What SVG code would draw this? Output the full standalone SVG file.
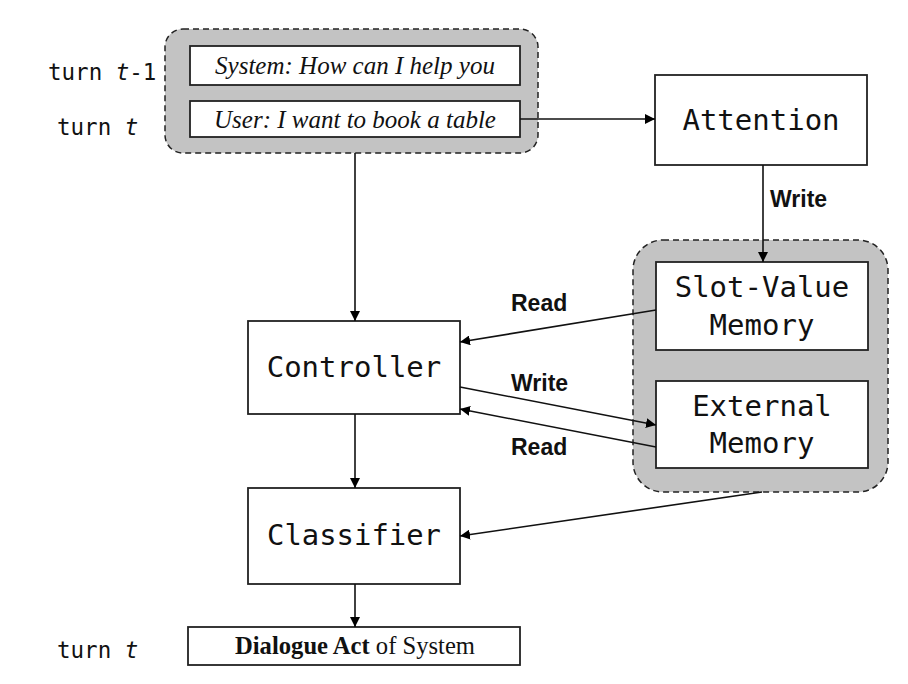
<svg xmlns="http://www.w3.org/2000/svg" width="908" height="684" viewBox="0 0 908 684">
<defs>
<marker id="ah" viewBox="0 0 10 10" refX="10" refY="5" markerWidth="10" markerHeight="10" markerUnits="userSpaceOnUse" orient="auto">
<path d="M0,0 L10,5 L0,10 z" fill="#000"/>
</marker>
<style>
.grp{fill:#c3c3c3;stroke:#222;stroke-width:1.5;stroke-dasharray:6,4}
.box{fill:#fff;stroke:#222;stroke-width:1.8}
.mono{font-family:"DejaVu Sans Mono","Liberation Mono",monospace;fill:#111}
.big{font-size:29px}
.turn{font-size:22.5px}
.serif{font-family:"Liberation Serif","Times New Roman",serif;font-size:25px;fill:#111}
.lbl{font-family:"Liberation Sans",Arial,sans-serif;font-weight:bold;font-size:23px;fill:#111}
.edge{stroke:#111;stroke-width:1.6;fill:none;marker-end:url(#ah)}
</style>
</defs>
<rect width="908" height="684" fill="#fff"/>

<g id="turn-labels">
<text class="mono turn" x="48" y="80">turn <tspan font-style="italic">t</tspan>-1</text>
<text class="mono turn" x="57" y="135">turn <tspan font-style="italic">t</tspan></text>
<text class="mono turn" x="57" y="658">turn <tspan font-style="italic">t</tspan></text>
</g>

<g id="input-group">
<rect class="grp" x="165" y="29" width="373" height="124" rx="18"/>
</g>
<g id="system-utterance">
<rect class="box" x="190" y="46" width="330" height="39"/>
<text class="serif" x="355" y="74" text-anchor="middle" font-style="italic">System: How can I help you</text>
</g>
<g id="user-utterance">
<rect class="box" x="190" y="101" width="330" height="36"/>
<text class="serif" x="355" y="128" text-anchor="middle" font-style="italic">User: I want to book a table</text>
</g>

<g id="attention">
<rect class="box" x="655" y="75" width="212" height="90"/>
<text class="mono big" x="761" y="130" text-anchor="middle">Attention</text>
</g>

<g id="memory-group">
<rect class="grp" x="633" y="240" width="255" height="252" rx="30"/>
</g>
<g id="slot-value-memory">
<rect class="box" x="656" y="262" width="212" height="88"/>
<text class="mono big" x="762" y="297" text-anchor="middle">Slot-Value</text>
<text class="mono big" x="762" y="335" text-anchor="middle">Memory</text>
</g>
<g id="external-memory">
<rect class="box" x="656" y="381" width="212" height="87"/>
<text class="mono big" x="762" y="416" text-anchor="middle">External</text>
<text class="mono big" x="762" y="453" text-anchor="middle">Memory</text>
</g>

<g id="controller">
<rect class="box" x="248" y="321" width="212" height="93"/>
<text class="mono big" x="354" y="377" text-anchor="middle">Controller</text>
</g>

<g id="classifier">
<rect class="box" x="248" y="488" width="212" height="96"/>
<text class="mono big" x="354" y="545" text-anchor="middle" textLength="174" lengthAdjust="spacingAndGlyphs">Classifier</text>
</g>

<g id="dialogue-act">
<rect class="box" x="188" y="627" width="332" height="38"/>
<text class="serif" x="355" y="654" text-anchor="middle" textLength="240" lengthAdjust="spacingAndGlyphs"><tspan font-weight="bold">Dialogue Act</tspan> of System</text>
</g>

<g id="connectors">
<line class="edge" x1="520" y1="119" x2="655" y2="119"/>
<line class="edge" x1="763" y1="165" x2="763" y2="262"/>
<line class="edge" x1="355" y1="153" x2="355" y2="321"/>
<line class="edge" x1="355" y1="414" x2="355" y2="488"/>
<line class="edge" x1="355" y1="584" x2="355" y2="627"/>
<line class="edge" x1="656" y1="310" x2="460" y2="342"/>
<line class="edge" x1="460" y1="387" x2="656" y2="425"/>
<line class="edge" x1="656" y1="447" x2="460" y2="409"/>
<line class="edge" x1="762" y1="492" x2="460" y2="536"/>
<text class="lbl" x="770" y="207">Write</text>
<text class="lbl" x="511" y="311">Read</text>
<text class="lbl" x="511" y="391">Write</text>
<text class="lbl" x="511" y="455">Read</text>
</g>
</svg>
